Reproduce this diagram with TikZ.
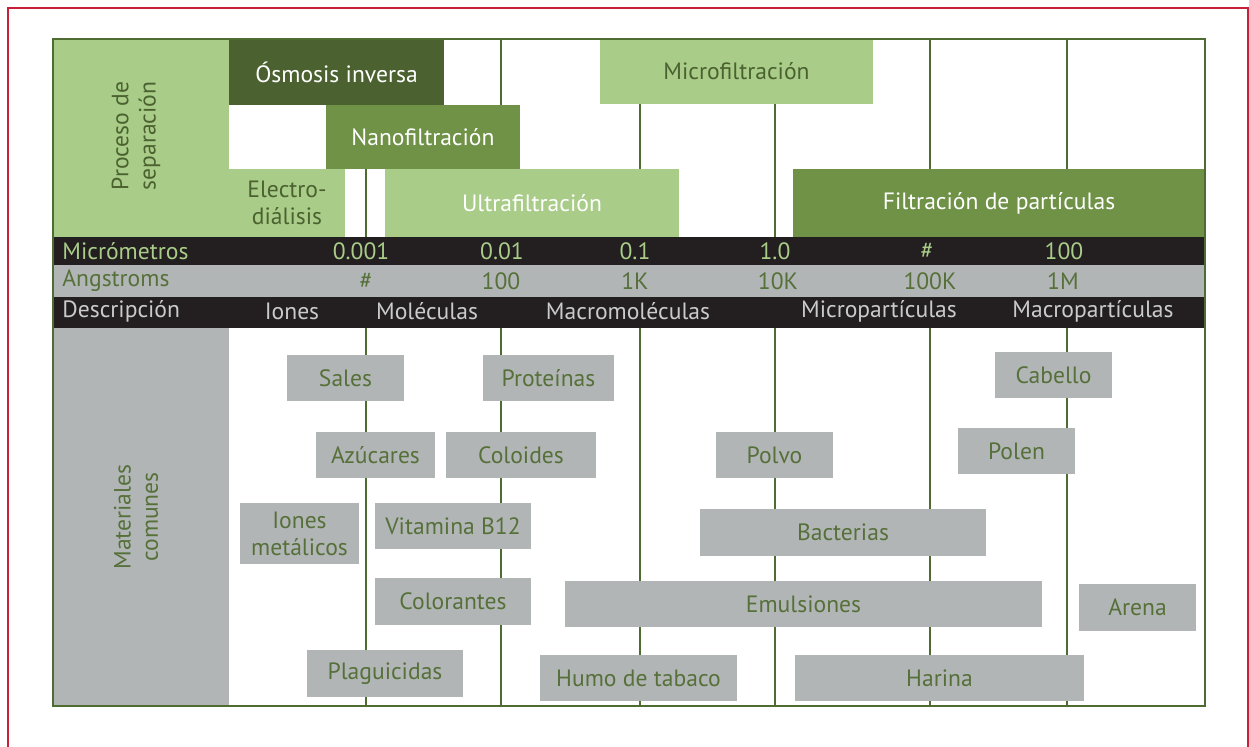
\documentclass[tikz,border=0pt]{standalone}
\usepackage{fontspec}
\setmainfont{PT Sans}
\definecolor{frame}{HTML}{C8203A}
\definecolor{rule}{HTML}{4E6B32}
\definecolor{deepgreen}{HTML}{4B6230}
\definecolor{midgreen}{HTML}{6F9247}
\definecolor{palegreen}{HTML}{A9CC88}
\definecolor{bandblack}{HTML}{231F20}
\definecolor{ash}{HTML}{B2B5B5}
\definecolor{olive}{HTML}{56703A}
\definecolor{lightgrey}{HTML}{CACBCB}
\tikzset{
  every node/.style={font=\fontsize{11.8}{13.6}\selectfont},
  cell/.style={inner sep=0pt,draw=none,align=center},
  procbox/.style={cell,fill=#1},
  matbox/.style={cell,fill=ash,text=olive},
  sizeline/.style={draw=rule,line width=1pt},
  rowlabel/.style={anchor=west,inner sep=0pt}}
\begin{document}
\begin{tikzpicture}[x=0.5pt,y=-0.5pt]
\useasboundingbox (0,0) rectangle (1249,747);
% page frame, open at the bottom
\draw[frame,line width=1pt] (8,747)--(8,8)--(1248,8)--(1248,747);
% left header cells
\fill[palegreen] (53,39) rectangle (229,237);
\fill[ash] (53,328) rectangle (229,706);
\node[rotate=90,align=center,text=deepgreen] (proceso) at (136,136) {Proceso de\\separación};
\node[rotate=90,align=center,text=olive] (materiales) at (136,517) {Materiales\\comunes};
% size grid
\foreach \x in {366,501,640,775,930,1067}{\draw[sizeline] (\x,39)--(\x,706);}
% separation processes
\foreach \n/\xa/\ya/\xb/\yb/\c/\tc/\t in {
  osmosis/229/39/444/105/deepgreen/white/{Ósmosis inversa},
  nano/326/105/520/169/midgreen/white/{Nanofiltración},
  electro/229/169/345/237/palegreen/deepgreen/{Electro-\\diálisis},
  ultra/385/169/679/237/palegreen/white/{Ultrafiltración},
  micro/600/39/873/104/palegreen/deepgreen/{Microfiltración},
  particulas/793/169/1205/237/midgreen/white/{Filtración de partículas}}{
  \node[procbox=\c,text=\tc,minimum width={(\xb-\xa)*0.5pt},minimum height={(\yb-\ya)*0.5pt}]
    (\n) at ({(\xa+\xb)/2},{(\ya+\yb)/2}) {\t};}
% scale bands
\fill[bandblack] (53,237) rectangle (1205,265);
\fill[ash] (53,265) rectangle (1205,297);
\fill[bandblack] (53,297) rectangle (1205,328);
\node[rowlabel,text=palegreen] (micrometros) at (62,251) {Micrómetros};
\node[rowlabel,text=olive] (angstroms) at (62,281) {Angstroms};
\node[rowlabel,text=lightgrey] (descripcion) at (62,311) {Descripción};
\foreach \x/\t in {361/0.001,502/0.01,635/0.1,775/1.0,927/\#,1064/100}{
  \node[text=palegreen] at (\x,251) {\t};}
\foreach \x/\t in {366/\#,501/100,635/1K,778/10K,930/100K,1063/1M}{
  \node[text=olive] at (\x,281) {\t};}
\foreach \x/\t in {292/Iones,427/Moléculas,628/Macromoléculas,879/Micropartículas,1093/Macropartículas}{
  \node[text=lightgrey] at (\x,311) {\t};}
% common materials
\foreach \n/\xa/\ya/\xb/\yb/\t in {
  sales/287/355/404/401/{Sales},
  proteinas/483/355/614/401/{Proteínas},
  cabello/995/352/1112/398/{Cabello},
  azucares/316/432/435/478/{Azúcares},
  coloides/446/432/596/478/{Coloides},
  polvo/716/432/833/478/{Polvo},
  polen/958/428/1075/474/{Polen},
  ionesmet/240/503/359/564/{Iones\\metálicos},
  vitamina/375/503/531/549/{Vitamina B12},
  bacterias/700/509/986/556/{Bacterias},
  colorantes/375/578/531/625/{Colorantes},
  emulsiones/565/581/1042/627/{Emulsiones},
  arena/1079/584/1196/631/{Arena},
  plaguicidas/307/650/463/697/{Plaguicidas},
  humo/540/655/737/701/{Humo de tabaco},
  harina/795/655/1084/701/{Harina}}{
  \node[matbox,minimum width={(\xb-\xa)*0.5pt},minimum height={(\yb-\ya)*0.5pt}]
    (\n) at ({(\xa+\xb)/2},{(\ya+\yb)/2}) {\t};}
% table border
\draw[rule,line width=1pt] (53,39) rectangle (1205,706);
\end{tikzpicture}
\end{document}
